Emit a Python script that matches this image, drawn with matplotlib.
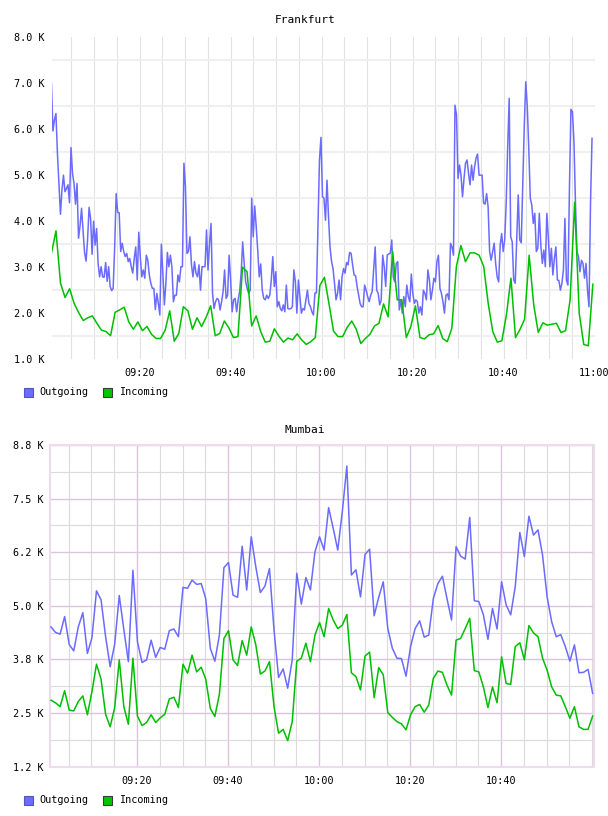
import matplotlib
matplotlib.use("Agg")
import matplotlib.pyplot as plt
import matplotlib.dates as mdates
from matplotlib.patches import Rectangle
from matplotlib.ticker import FixedLocator, NullFormatter
import numpy as np
import pandas as pd

plt.rcParams["font.family"] = ["DejaVu Sans Mono"]

DAY = "2024-01-01 "

# Frankfurt, values in K (outgoing sampled ~20 s, incoming every minute)
fra_out = [
    6.99, 5.95, 6.19, 6.33, 5.46, 4.78, 4.14, 4.67, 4.99, 4.63,
    4.70, 4.78, 4.39, 5.59, 5.03, 4.81, 4.36, 4.81, 3.62, 3.88,
    4.27, 3.80, 3.31, 3.12, 3.58, 4.29, 4.05, 3.27, 3.99, 3.47,
    3.83, 3.07, 2.78, 3.00, 2.78, 2.77, 3.09, 2.68, 3.00, 2.57,
    2.48, 2.53, 3.43, 4.59, 4.18, 4.17, 3.33, 3.51, 3.33, 3.22,
    3.29, 3.11, 3.18, 3.00, 2.86, 3.18, 3.43, 2.71, 3.75, 3.22,
    2.78, 2.93, 2.75, 3.25, 3.14, 2.82, 2.64, 2.53, 2.53, 2.07,
    2.42, 2.20, 1.95, 3.49, 2.86, 2.17, 2.64, 3.31, 3.00, 3.25,
    3.00, 2.24, 2.38, 2.38, 2.82, 2.67, 3.00, 3.00, 5.25, 4.74,
    3.29, 3.33, 3.65, 3.04, 2.78, 3.11, 2.86, 2.78, 3.04, 2.49,
    3.00, 3.00, 3.00, 3.80, 2.93, 3.51, 3.94, 2.42, 2.09, 2.24,
    2.31, 2.28, 2.06, 2.24, 2.46, 2.93, 2.31, 2.38, 3.25, 2.71,
    2.02, 2.28, 2.31,
    2.02, 2.28, 2.46, 2.86, 3.54, 3.07, 2.67, 2.53, 2.42, 2.49,
    4.49, 3.65, 4.32, 3.87, 3.36, 2.78, 3.06, 2.49, 2.31, 2.28,
    2.38, 2.31, 2.38, 2.71, 3.22, 2.57, 2.89, 2.13, 2.24, 2.09,
    2.04, 2.17, 2.02, 2.60, 2.09, 2.08, 2.09, 2.13, 2.93, 2.67,
    1.99, 2.71, 2.35, 1.99, 2.09, 2.06, 2.28, 2.49, 2.20, 2.13,
    2.02, 1.95, 2.43, 2.43, 3.87, 5.32, 5.81, 4.52, 4.49, 4.01,
    4.88, 4.09, 3.43, 3.12, 2.96, 2.64, 2.28, 2.42, 2.71, 2.28,
    2.78, 2.96, 2.86, 3.09, 3.04, 3.31, 3.29, 3.04, 2.82, 2.80,
    2.57, 2.38, 2.20, 2.13, 2.13, 2.60, 2.49, 2.35, 2.24, 2.38,
    2.46, 2.96, 3.43, 2.49, 2.42, 2.17, 2.28, 3.25, 3.00, 2.57,
    3.25, 3.28, 3.29, 3.58, 2.78, 2.67, 3.07, 3.11, 2.06, 2.28,
    1.99, 2.35, 2.13, 2.60, 2.35, 2.24, 2.84, 2.42, 2.20, 2.28,
    2.24, 1.99,
    2.13, 1.95, 2.49, 2.42, 2.28, 2.93, 2.71, 2.28, 2.49, 2.75,
    2.67, 3.11, 3.25, 2.53, 2.42, 2.24, 1.99, 2.38, 2.41, 2.28,
    3.51, 3.43, 3.25, 6.51, 6.30, 4.92, 5.21, 4.99, 4.52, 4.92,
    5.25, 5.32, 5.03, 4.78, 5.21, 4.88, 5.17, 5.36, 5.45, 4.99,
    4.99, 4.99, 4.38, 4.36, 4.59, 4.30, 3.33, 3.14, 3.33, 3.51,
    3.07, 2.78, 2.67, 3.47, 3.72, 3.33, 3.58, 4.38, 5.61, 6.66,
    3.65, 3.54, 2.71, 2.64, 3.62, 4.56, 3.58, 3.52, 4.74, 6.04,
    7.02, 6.48, 5.57, 4.49, 4.34, 3.94, 4.16, 3.33, 3.40, 4.16,
    3.47, 3.07, 3.36, 3.00, 4.16, 3.62, 3.00, 3.40, 2.82, 3.18,
    3.43, 2.71, 2.70, 2.49, 2.64, 2.93, 4.05, 2.71, 2.60, 4.70,
    6.42, 6.37, 5.72, 4.38, 3.33, 3.22, 2.89, 3.14, 3.07, 2.75,
    3.07, 2.49, 2.13, 4.38, 5.79,
]
fra_in = [
    3.29, 3.78, 2.64, 2.33, 2.52, 2.20, 2.00, 1.83, 1.89, 1.93,
    1.77, 1.62, 1.59, 1.50, 2.01, 2.06, 2.12, 1.80, 1.64, 1.80,
    1.61, 1.70, 1.53, 1.44, 1.44, 1.62, 2.04, 1.38, 1.55, 2.13,
    2.04, 1.64, 1.89, 1.70, 1.90, 2.15, 1.50, 1.55, 1.82, 1.67,
    1.46, 1.48, 2.99, 2.89, 1.71, 1.93, 1.59, 1.36, 1.38, 1.65,
    1.49, 1.36, 1.45, 1.41, 1.54, 1.41, 1.31, 1.37, 1.46, 2.59,
    2.77, 2.20, 1.60, 1.48, 1.48, 1.68, 1.82, 1.64, 1.33, 1.44,
    1.53, 1.71, 1.77, 2.19, 1.91, 3.33, 2.28, 2.28, 1.46, 1.70,
    2.15, 1.46, 1.43, 1.52, 1.54, 1.72, 1.44, 1.37, 1.66, 3.00,
    3.46, 3.11, 3.30, 3.30, 3.25, 3.01, 2.20, 1.59, 1.36, 1.39,
    1.95, 2.75, 1.46, 1.64, 1.86, 3.25, 2.17, 1.57, 1.78, 1.73,
    1.75, 1.77, 1.57, 1.61, 2.28, 4.40, 1.99, 1.31, 1.28, 2.62,
]

# Mumbai, values in K, one sample per minute
mum_out = [
    4.51, 4.38, 4.34, 4.75, 4.10, 3.95, 4.51, 4.84, 3.89, 4.26,
    5.35, 5.14, 4.28, 3.58, 4.11, 5.24, 4.45, 3.70, 5.83, 4.16,
    3.68, 3.74, 4.20, 3.80, 4.03, 3.99, 4.42, 4.46, 4.28, 5.43,
    5.41, 5.60, 5.50, 5.52, 5.17, 4.01, 3.71, 4.32, 5.89, 6.01,
    5.25, 5.20, 6.39, 5.37, 6.61, 5.91, 5.31, 5.46, 5.87, 4.44,
    3.33, 3.53, 3.08, 3.74, 5.76, 5.04, 5.66, 5.37, 6.26, 6.61,
    6.30, 7.29, 6.81, 6.30, 7.19, 8.26, 5.72, 5.84, 5.21, 6.20,
    6.32, 4.77, 5.20, 5.56, 4.47, 4.01, 3.78, 3.77, 3.36, 4.05,
    4.47, 4.65, 4.27, 4.32, 5.17, 5.52, 5.69, 5.17, 4.67, 6.38,
    6.16, 6.09, 7.06, 5.12, 5.10, 4.79, 4.22, 4.94, 4.46, 5.56,
    5.02, 4.79, 5.45, 6.71, 6.15, 7.09, 6.65, 6.77, 6.18, 5.21,
    4.63, 4.28, 4.33, 4.05, 3.71, 4.09, 3.44, 3.45, 3.52, 2.96,
]
mum_in = [
    2.80, 2.74, 2.65, 3.02, 2.57, 2.55, 2.77, 2.90, 2.46, 3.00,
    3.64, 3.29, 2.47, 2.18, 2.63, 3.74, 2.65, 2.24, 3.78, 2.43,
    2.21, 2.28, 2.46, 2.28, 2.39, 2.47, 2.83, 2.87, 2.63, 3.64,
    3.43, 3.85, 3.46, 3.57, 3.29, 2.61, 2.42, 2.94, 4.24, 4.42,
    3.74, 3.61, 4.19, 3.85, 4.51, 4.09, 3.41, 3.48, 3.70, 2.65,
    2.03, 2.12, 1.86, 2.30, 3.71, 3.78, 4.13, 3.70, 4.32, 4.61,
    4.28, 4.94, 4.67, 4.47, 4.55, 4.80, 3.44, 3.35, 3.04, 3.83,
    3.92, 2.86, 3.56, 3.39, 2.51, 2.40, 2.30, 2.25, 2.11, 2.46,
    2.65, 2.70, 2.52, 2.69, 3.31, 3.48, 3.45, 3.15, 2.92, 4.20,
    4.24, 4.47, 4.71, 3.49, 3.46, 3.11, 2.63, 3.11, 2.74, 3.81,
    3.19, 3.17, 4.05, 4.14, 3.74, 4.54, 4.37, 4.28, 3.78, 3.50,
    3.11, 2.92, 2.90, 2.65, 2.38, 2.65, 2.18, 2.12, 2.12, 2.43,
]

fra_yticks = [1.0, 2.0, 3.0, 4.0, 5.0, 6.0, 7.0, 8.0]
fra_ylabels = ["1.0 K", "2.0 K", "3.0 K", "4.0 K", "5.0 K", "6.0 K", "7.0 K", "8.0 K"]
fra_ygrid = [1.5, 2.5, 3.5, 4.5, 5.5, 6.5, 7.5]
mum_yticks = [1.25, 2.5, 3.75, 5.0, 6.25, 7.5, 8.75]
mum_ylabels = ["1.2 K", "2.5 K", "3.8 K", "5.0 K", "6.2 K", "7.5 K", "8.8 K"]
mum_ygrid = [1.875, 3.125, 4.375, 5.625, 6.875, 8.125]

fra_out_t = pd.date_range(DAY + "09:00:37", DAY + "10:59:26", periods=len(fra_out))
fra_in_t = pd.date_range(DAY + "09:00:37", periods=len(fra_in), freq="min")
mum_t = pd.date_range(DAY + "09:01:06", periods=len(mum_out), freq="min")

BLUE = "#6b6bff"
GREEN = "#00bf00"
FS = 7.3

W, H = 608, 816
fig = plt.figure(figsize=(W / 100, H / 100), dpi=100)


def px_axes(left, top, right, bottom):
    return fig.add_axes([left / W, 1 - bottom / H, (right - left) / W, (bottom - top) / H])


def style_common(ax):
    ax.set_axisbelow(True)
    ax.xaxis.set_major_formatter(mdates.DateFormatter("%H:%M"))
    ax.xaxis.set_minor_locator(mdates.MinuteLocator(byminute=range(0, 60, 5)))
    ax.tick_params(which="both", length=0, labelsize=FS)
    ax.tick_params(axis="y", pad=5)
    ax.tick_params(axis="x", pad=7)


def legend(y_center):
    for x0, xt, color, edge, label in [
        (24, 39, BLUE, "#5656b8", "Outgoing"),
        (103, 119, "#00c800", "#3a3a3a", "Incoming"),
    ]:
        fig.add_artist(Rectangle((x0 / W, 1 - (y_center + 4.5) / H), 9 / W, 9 / H,
                                 transform=fig.transFigure, facecolor=color,
                                 edgecolor=edge, linewidth=0.8))
        fig.text(xt / W, 1 - y_center / H, label, fontsize=FS, va="center", ha="left")


# Frankfurt
ax1 = px_axes(51.5, 36.7, 594.6, 358.7)
style_common(ax1)
ax1.plot(fra_out_t, fra_out, color=BLUE, lw=1.1, zorder=3)
ax1.plot(fra_in_t, fra_in, color=GREEN, lw=1.1, zorder=4)
ax1.set_xlim(pd.Timestamp(DAY + "09:00:38"), pd.Timestamp(DAY + "11:00:00"))
ax1.set_ylim(1.0, 8.0)
ax1.xaxis.set_major_locator(mdates.MinuteLocator(byminute=[0, 20, 40]))
ax1.set_yticks(fra_yticks)
ax1.set_yticklabels(fra_ylabels)
ax1.yaxis.set_minor_locator(FixedLocator(fra_ygrid))
ax1.yaxis.set_minor_formatter(NullFormatter())
ax1.grid(True, axis="x", which="both", color="#e2e2e2", lw=0.8)
ax1.grid(True, axis="y", which="minor", color="#eeeeee", lw=1.3)
for s in ax1.spines.values():
    s.set_visible(False)

# Mumbai
ax2 = px_axes(50.3, 445, 594, 766.7)
style_common(ax2)
ax2.plot(mum_t, mum_out, color=BLUE, lw=1.1, zorder=3)
ax2.plot(mum_t, mum_in, color=GREEN, lw=1.1, zorder=4)
ax2.set_xlim(pd.Timestamp(DAY + "09:00:57"), pd.Timestamp(DAY + "11:00:24"))
ax2.set_ylim(1.25, 8.75)
ax2.xaxis.set_major_locator(FixedLocator(mdates.date2num(
    pd.date_range(DAY + "09:20", DAY + "10:40", freq="20min").to_pydatetime())))
ax2.set_yticks(mum_yticks)
ax2.set_yticklabels(mum_ylabels)
ax2.yaxis.set_minor_locator(FixedLocator(mum_ygrid))
ax2.yaxis.set_minor_formatter(NullFormatter())
ax2.grid(True, which="minor", color="#dcdadc", lw=0.8)
ax2.grid(True, which="major", color="#dcc4dc", lw=1.0)
for s in ax2.spines.values():
    s.set_color("#ecdcec")
    s.set_linewidth(1.5)

fig.text(305 / W, 1 - 20 / H, "Frankfurt", fontsize=8, ha="center", va="center")
fig.text(305 / W, 1 - 430 / H, "Mumbai", fontsize=8, ha="center", va="center")
legend(392.5)
legend(800)

fig.savefig("out.png", dpi=100)
